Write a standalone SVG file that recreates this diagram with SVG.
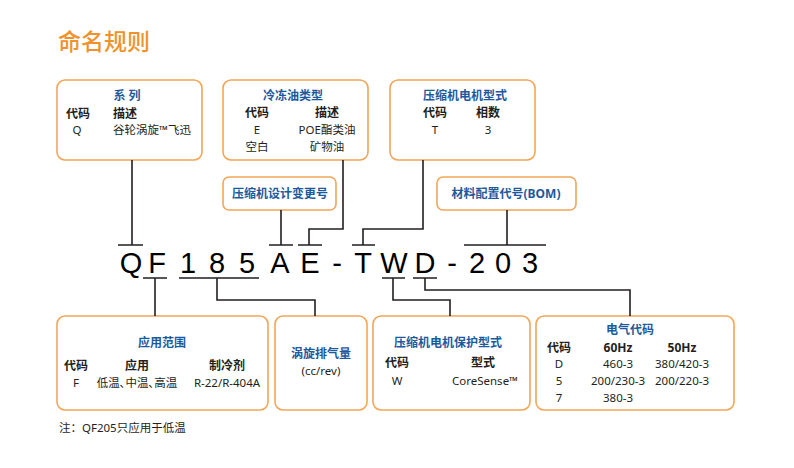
<svg xmlns="http://www.w3.org/2000/svg" width="794" height="468" viewBox="0 0 794 468">
<style>
.box{fill:#fff;stroke:#F2A65A;stroke-width:1.6}
.ttl{font-family:"Noto Sans","Noto Sans CJK SC",sans-serif;font-size:12px;font-weight:bold;fill:#1D5A9C;text-anchor:middle}
.hd{font-family:"Noto Sans","Noto Sans CJK SC",sans-serif;font-size:12px;font-weight:bold;fill:#231F20;text-anchor:middle}
.tx{font-family:"Noto Sans","Noto Sans CJK SC",sans-serif;font-size:11.5px;fill:#231F20;text-anchor:middle}
.code{font-family:"Liberation Sans",Arial,sans-serif;font-size:29px;fill:#000;text-anchor:middle}
.ln{fill:none;stroke:#231F20;stroke-width:1.6}
</style>
<rect width="794" height="468" fill="#fff"/>
<text x="58" y="50" font-family="Noto Sans CJK SC,sans-serif" font-size="23" font-weight="500" fill="#F0922B">命名规则</text>

<g id="node-series">
<rect class="box" x="57" y="80" width="145" height="80" rx="8"/>
<text class="ttl" x="127" y="100">系 列</text>
<text class="hd" x="78" y="118">代码</text>
<text class="hd" x="125" y="118">描述</text>
<text class="tx" x="77" y="134">Q</text>
<text class="tx" x="113" y="134" text-anchor="start" style="text-anchor:start">谷轮涡旋™飞迅</text>
</g>

<g id="node-oil">
<rect class="box" x="223" y="80" width="145" height="80" rx="8"/>
<text class="ttl" x="293" y="100">冷冻油类型</text>
<text class="hd" x="257" y="117">代码</text>
<text class="hd" x="327" y="117">描述</text>
<text class="tx" x="257" y="134">E</text>
<text class="tx" x="327" y="134">POE酯类油</text>
<text class="tx" x="257" y="151">空白</text>
<text class="tx" x="327" y="151">矿物油</text>
</g>

<g id="node-motor">
<rect class="box" x="390" y="80" width="145" height="80" rx="8"/>
<text class="ttl" x="465" y="100">压缩机电机型式</text>
<text class="hd" x="435" y="117">代码</text>
<text class="hd" x="488" y="117">相数</text>
<text class="tx" x="435" y="134">T</text>
<text class="tx" x="488" y="134">3</text>
</g>

<g id="node-design">
<rect class="box" x="223" y="177" width="113" height="33" rx="6"/>
<text class="ttl" x="280" y="198">压缩机设计变更号</text>
</g>

<g id="node-bom">
<rect class="box" x="437" y="177" width="139" height="33" rx="6"/>
<text class="ttl" x="506" y="198">材料配置代号(BOM)</text>
</g>

<g id="node-app">
<rect class="box" x="57" y="316" width="211" height="94" rx="8"/>
<text class="ttl" x="162" y="347">应用范围</text>
<text class="hd" x="76" y="370">代码</text>
<text class="hd" x="137" y="370">应用</text>
<text class="hd" x="227" y="370">制冷剂</text>
<text class="tx" x="76" y="387">F</text>
<text class="tx" x="137" y="387">低温､中温､高温</text>
<text class="tx" x="227" y="387">R-22/R-404A</text>
</g>

<g id="node-disp">
<rect class="box" x="275" y="316" width="92" height="94" rx="8"/>
<text class="ttl" x="321" y="358">涡旋排气量</text>
<text class="tx" x="321" y="375">(cc/rev)</text>
</g>

<g id="node-protect">
<rect class="box" x="373" y="316" width="157" height="94" rx="8"/>
<text class="ttl" x="448" y="347">压缩机电机保护型式</text>
<text class="hd" x="397" y="367">代码</text>
<text class="hd" x="483" y="367">型式</text>
<text class="tx" x="397" y="385">W</text>
<text class="tx" x="485" y="385">CoreSense™</text>
</g>

<g id="node-elec">
<rect class="box" x="536" y="316" width="198" height="94" rx="8"/>
<text class="ttl" x="630" y="334">电气代码</text>
<text class="hd" x="559" y="352">代码</text>
<text class="hd" x="618" y="352">60Hz</text>
<text class="hd" x="682" y="352">50Hz</text>
<text class="tx" x="559" y="368">D</text>
<text class="tx" x="618" y="368">460-3</text>
<text class="tx" x="682" y="368">380/420-3</text>
<text class="tx" x="559" y="385">5</text>
<text class="tx" x="618" y="385">200/230-3</text>
<text class="tx" x="682" y="385">200/220-3</text>
<text class="tx" x="559" y="402">7</text>
<text class="tx" x="618" y="402">380-3</text>
</g>

<g id="code">
<text class="code" x="131" y="273">Q</text>
<text class="code" x="157" y="273">F</text>
<text class="code" x="188" y="273">1</text>
<text class="code" x="217" y="273">8</text>
<text class="code" x="247" y="273">5</text>
<text class="code" x="280" y="273">A</text>
<text class="code" x="310" y="273">E</text>
<text class="code" x="337" y="273" font-weight="300">-</text>
<text class="code" x="363" y="273">T</text>
<text class="code" x="394" y="273">W</text>
<text class="code" x="425" y="273">D</text>
<text class="code" x="452" y="273" font-weight="300">-</text>
<text class="code" x="477" y="273">2</text>
<text class="code" x="503" y="273">0</text>
<text class="code" x="530" y="273">3</text>
</g>

<g id="connectors">
<path class="ln" d="M118 245H143M132 160V245"/>
<path class="ln" d="M269 245H293M281 210V245"/>
<path class="ln" d="M298 245H322M309 245V229H343V160"/>
<path class="ln" d="M352 245H375M363 245V229H423V160"/>
<path class="ln" d="M464 245H546M507 210V245"/>
<path class="ln" d="M143 278H167M155 278V316"/>
<path class="ln" d="M179 278H259M217 278V300H315V316"/>
<path class="ln" d="M382 278H405M393 278V300H450V316"/>
<path class="ln" d="M413 278H437M425 278V290H630V316"/>
</g>

<text x="59" y="432" font-family="Noto Sans,Noto Sans CJK SC,sans-serif" font-size="11.5" fill="#231F20">注：QF205只应用于低温</text>
</svg>
